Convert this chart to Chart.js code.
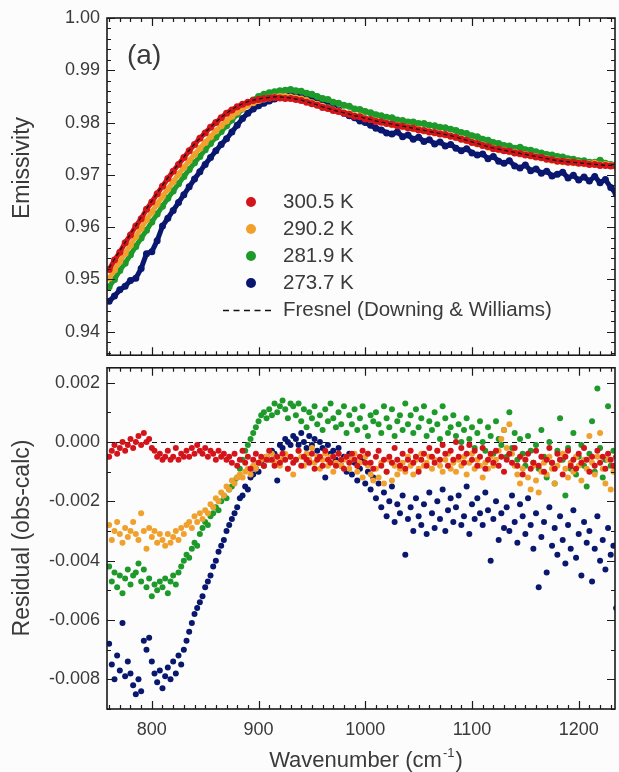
<!DOCTYPE html>
<html>
<head>
<meta charset="utf-8">
<script src="https://cdn.jsdelivr.net/npm/chart.js@4.4.1/dist/chart.umd.min.js"></script>
<style>
  body { margin: 0; background: #fcfcfc; }
  #wrap { position: relative; width: 619px; height: 772px; overflow: hidden; }
  canvas { position: absolute; left: 0; }
  #topChart { top: 0; }
  #bottomChart { top: 350px; }
</style>
</head>
<body>
<div id="wrap">
  <canvas id="topChart" width="619" height="373"></canvas>
  <canvas id="bottomChart" width="619" height="422"></canvas>
</div>
<script>
// wavenumber grid of the emissivity panel (cm-1)
const wn = [
  760, 765, 770, 775, 780, 785, 790, 795, 800, 805,
  810, 815, 820, 825, 830, 835, 840, 845, 850, 855,
  860, 865, 870, 875, 880, 885, 890, 895, 900, 905,
  910, 915, 920, 925, 930, 935, 940, 945, 950, 955,
  960, 965, 970, 975, 980, 985, 990, 995, 1000, 1005,
  1010, 1015, 1020, 1025, 1030, 1035, 1040, 1045, 1050, 1055,
  1060, 1065, 1070, 1075, 1080, 1085, 1090, 1095, 1100, 1105,
  1110, 1115, 1120, 1125, 1130, 1135, 1140, 1145, 1150, 1155,
  1160, 1165, 1170, 1175, 1180, 1185, 1190, 1195, 1200, 1205,
  1210, 1215, 1220, 1225, 1230, 1235
];

const emisRed = [
  0.9519, 0.9537, 0.9552, 0.9570, 0.9585, 0.9602, 0.9616, 0.9634, 0.9648, 0.9664,
  0.9678, 0.9693, 0.9707, 0.9720, 0.9733, 0.9746, 0.9758, 0.9770, 0.9780, 0.9791,
  0.9800, 0.9809, 0.9818, 0.9824, 0.9830, 0.9835, 0.9839, 0.9842, 0.9844, 0.9846,
  0.9847, 0.9848, 0.9847, 0.9846, 0.9846, 0.9844, 0.9842, 0.9839, 0.9836, 0.9833,
  0.9829, 0.9827, 0.9823, 0.9821, 0.9818, 0.9816, 0.9812, 0.9811, 0.9807, 0.9806,
  0.9802, 0.9801, 0.9798, 0.9797, 0.9794, 0.9793, 0.9790, 0.9789, 0.9786, 0.9785,
  0.9782, 0.9781, 0.9778, 0.9777, 0.9774, 0.9772, 0.9768, 0.9766, 0.9762, 0.9760,
  0.9756, 0.9754, 0.9750, 0.9749, 0.9746, 0.9745, 0.9742, 0.9741, 0.9738, 0.9737,
  0.9734, 0.9733, 0.9730, 0.9729, 0.9726, 0.9726, 0.9724, 0.9724, 0.9722, 0.9722,
  0.9720, 0.9720, 0.9718, 0.9718, 0.9717, 0.9717
];
const emisOrange = [
  0.9502, 0.9518, 0.9534, 0.9550, 0.9566, 0.9582, 0.9598, 0.9614, 0.9629, 0.9644,
  0.9659, 0.9673, 0.9687, 0.9701, 0.9714, 0.9727, 0.9739, 0.9751, 0.9762, 0.9773,
  0.9784, 0.9794, 0.9803, 0.9812, 0.9820, 0.9827, 0.9833, 0.9838, 0.9842, 0.9845,
  0.9847, 0.9849, 0.9850, 0.9850, 0.9849, 0.9847, 0.9845, 0.9842, 0.9838, 0.9835,
  0.9831, 0.9828, 0.9824, 0.9822, 0.9819, 0.9817, 0.9813, 0.9812, 0.9808, 0.9806,
  0.9803, 0.9800, 0.9799, 0.9796, 0.9795, 0.9792, 0.9791, 0.9788, 0.9787, 0.9784,
  0.9783, 0.9780, 0.9779, 0.9776, 0.9775, 0.9771, 0.9769, 0.9765, 0.9763, 0.9759,
  0.9757, 0.9753, 0.9751, 0.9748, 0.9747, 0.9744, 0.9743, 0.9740, 0.9739, 0.9736,
  0.9735, 0.9732, 0.9731, 0.9728, 0.9727, 0.9725, 0.9725, 0.9723, 0.9723, 0.9721,
  0.9721, 0.9722, 0.9719, 0.9720, 0.9718, 0.9716
];
const emisGreen = [
  0.9486, 0.9500, 0.9517, 0.9531, 0.9547, 0.9563, 0.9579, 0.9594, 0.9610, 0.9625,
  0.9640, 0.9655, 0.9669, 0.9683, 0.9697, 0.9710, 0.9723, 0.9735, 0.9748, 0.9760,
  0.9772, 0.9783, 0.9794, 0.9805, 0.9816, 0.9826, 0.9835, 0.9843, 0.9850, 0.9854,
  0.9857, 0.9859, 0.9861, 0.9862, 0.9863, 0.9861, 0.9860, 0.9856, 0.9854, 0.9850,
  0.9846, 0.9844, 0.9839, 0.9837, 0.9833, 0.9831, 0.9826, 0.9825, 0.9821, 0.9819,
  0.9815, 0.9813, 0.9810, 0.9809, 0.9805, 0.9804, 0.9801, 0.9801, 0.9798, 0.9798,
  0.9795, 0.9794, 0.9791, 0.9790, 0.9787, 0.9785, 0.9781, 0.9779, 0.9775, 0.9773,
  0.9768, 0.9766, 0.9762, 0.9760, 0.9756, 0.9755, 0.9751, 0.9753, 0.9748, 0.9747,
  0.9744, 0.9742, 0.9739, 0.9738, 0.9735, 0.9734, 0.9731, 0.9730, 0.9727, 0.9727,
  0.9724, 0.9724, 0.9728, 0.9722, 0.9720, 0.9719
];
const emisBlue = [
  0.9458, 0.9468, 0.9480, 0.9487, 0.9498, 0.9502, 0.9521, 0.9549, 0.9553, 0.9574,
  0.9602, 0.9617, 0.9632, 0.9647, 0.9662, 0.9677, 0.9692, 0.9706, 0.9720, 0.9733,
  0.9746, 0.9758, 0.9769, 0.9782, 0.9795, 0.9808, 0.9818, 0.9826, 0.9832, 0.9837,
  0.9841, 0.9845, 0.9848, 0.9851, 0.9852, 0.9852, 0.9851, 0.9850, 0.9848, 0.9844,
  0.9840, 0.9835, 0.9829, 0.9824, 0.9818, 0.9813, 0.9809, 0.9803, 0.9800, 0.9795,
  0.9789, 0.9786, 0.9780, 0.9778, 0.9782, 0.9773, 0.9776, 0.9768, 0.9772, 0.9764,
  0.9767, 0.9759, 0.9763, 0.9755, 0.9758, 0.9751, 0.9746, 0.9750, 0.9742, 0.9738,
  0.9740, 0.9731, 0.9735, 0.9726, 0.9722, 0.9727, 0.9717, 0.9713, 0.9719, 0.9708,
  0.9711, 0.9703, 0.9707, 0.9698, 0.9701, 0.9705, 0.9694, 0.9699, 0.9690, 0.9696,
  0.9688, 0.9697, 0.9685, 0.9691, 0.9676, 0.9664
];
// Fresnel calculation (Downing & Williams optical constants)
const fresnelCalc = [
  0.9522, 0.9539, 0.9555, 0.9571, 0.9587, 0.9603, 0.9619, 0.9635, 0.9650, 0.9665,
  0.9680, 0.9694, 0.9708, 0.9721, 0.9734, 0.9747, 0.9759, 0.9770, 0.9781, 0.9791,
  0.9801, 0.9810, 0.9818, 0.9825, 0.9831, 0.9836, 0.9840, 0.9843, 0.9845, 0.9847,
  0.9848, 0.9849, 0.9849, 0.9848, 0.9847, 0.9845, 0.9843, 0.9840, 0.9837, 0.9834,
  0.9830, 0.9827, 0.9824, 0.9821, 0.9819, 0.9816, 0.9813, 0.9811, 0.9808, 0.9806,
  0.9803, 0.9801, 0.9799, 0.9797, 0.9795, 0.9793, 0.9791, 0.9789, 0.9787, 0.9785,
  0.9783, 0.9781, 0.9779, 0.9777, 0.9775, 0.9772, 0.9769, 0.9766, 0.9763, 0.9760,
  0.9757, 0.9754, 0.9751, 0.9749, 0.9747, 0.9745, 0.9743, 0.9741, 0.9739, 0.9737,
  0.9735, 0.9733, 0.9731, 0.9729, 0.9727, 0.9726, 0.9725, 0.9724, 0.9723, 0.9722,
  0.9721, 0.9720, 0.9719, 0.9718, 0.9718, 0.9717
];

// wavenumber grid of the residual panel (cm-1)
const wnRes = [
  760, 762.5, 765, 767.5, 770, 772.5, 775, 777.5, 780, 782.5,
  785, 787.5, 790, 792.5, 795, 797.5, 800, 802.5, 805, 807.5,
  810, 812.5, 815, 817.5, 820, 822.5, 825, 827.5, 830, 832.5,
  835, 837.5, 840, 842.5, 845, 847.5, 850, 852.5, 855, 857.5,
  860, 862.5, 865, 867.5, 870, 872.5, 875, 877.5, 880, 882.5,
  885, 887.5, 890, 892.5, 895, 897.5, 900, 902.5, 905, 907.5,
  910, 912.5, 915, 917.5, 920, 922.5, 925, 927.5, 930, 932.5,
  935, 937.5, 940, 942.5, 945, 947.5, 950, 952.5, 955, 957.5,
  960, 962.5, 965, 967.5, 970, 972.5, 975, 977.5, 980, 982.5,
  985, 987.5, 990, 992.5, 995, 997.5, 1000, 1002.5, 1005, 1007.5,
  1010, 1012.5, 1015, 1017.5, 1020, 1022.5, 1025, 1027.5, 1030, 1032.5,
  1035, 1037.5, 1040, 1042.5, 1045, 1047.5, 1050, 1052.5, 1055, 1057.5,
  1060, 1062.5, 1065, 1067.5, 1070, 1072.5, 1075, 1077.5, 1080, 1082.5,
  1085, 1087.5, 1090, 1092.5, 1095, 1097.5, 1100, 1102.5, 1105, 1107.5,
  1110, 1112.5, 1115, 1117.5, 1120, 1122.5, 1125, 1127.5, 1130, 1132.5,
  1135, 1137.5, 1140, 1142.5, 1145, 1147.5, 1150, 1152.5, 1155, 1157.5,
  1160, 1162.5, 1165, 1167.5, 1170, 1172.5, 1175, 1177.5, 1180, 1182.5,
  1185, 1187.5, 1190, 1192.5, 1195, 1197.5, 1200, 1202.5, 1205, 1207.5,
  1210, 1212.5, 1215, 1217.5, 1220, 1222.5, 1225, 1227.5, 1230, 1232.5,
  1235
];

const resRed = [
  -0.0005, -0.0003, -0.0001, -0.0004, -0.0002, 0.0000, -0.0003, -0.0001, 0.0001, -0.0002,
  0.0000, 0.0002, -0.0001, 0.0003, 0.0000, 0.0001, -0.0002, -0.0003, -0.0005, -0.0004,
  -0.0006, -0.0005, -0.0003, -0.0006, -0.0005, -0.0002, -0.0006, -0.0004, -0.0005, -0.0003,
  -0.0005, -0.0002, -0.0004, -0.0001, -0.0003, -0.0004, -0.0002, -0.0005, -0.0003, -0.0004,
  -0.0006, -0.0003, -0.0005, -0.0004, -0.0006, -0.0005, -0.0007, -0.0004, -0.0008, -0.0006,
  -0.0003, -0.0007, -0.0005, -0.0009, -0.0006, -0.0004, -0.0007, -0.0005, -0.0008, -0.0006,
  -0.0003, -0.0006, -0.0008, -0.0005, -0.0007, -0.0004, -0.0006, -0.0009, -0.0005, -0.0007,
  -0.0006, -0.0003, -0.0008, -0.0005, -0.0006, -0.0007, -0.0004, -0.0009, -0.0006, -0.0005,
  -0.0008, -0.0003, -0.0006, -0.0007, -0.0005, -0.0008, -0.0004, -0.0006, -0.0009, -0.0005,
  -0.0007, -0.0004, -0.0006, -0.0008, -0.0005, -0.0003, -0.0007, -0.0004, -0.0007, -0.0009,
  -0.0005, -0.0003, -0.0008, -0.0006, -0.0010, -0.0005, -0.0007, -0.0002, -0.0006, -0.0008,
  -0.0004, -0.0009, -0.0006, -0.0003, -0.0007, -0.0005, -0.0010, -0.0006, -0.0004, -0.0008,
  -0.0002, -0.0005, -0.0007, -0.0003, -0.0006, -0.0001, -0.0004, -0.0008, -0.0003, -0.0006,
  0.0000, -0.0005, -0.0002, -0.0007, -0.0004, -0.0001, -0.0006, -0.0003, -0.0008, -0.0005,
  -0.0002, -0.0009, -0.0006, -0.0004, -0.0007, -0.0003, -0.0008, -0.0005, -0.0010, -0.0006,
  -0.0004, -0.0007, -0.0002, -0.0008, -0.0005, -0.0011, -0.0006, -0.0004, -0.0009, -0.0007,
  -0.0003, -0.0008, -0.0005, -0.0010, -0.0006, -0.0002, -0.0007, -0.0009, -0.0004, -0.0006,
  -0.0011, -0.0005, -0.0003, -0.0008, -0.0006, -0.0009, -0.0004, -0.0007, -0.0002, -0.0006,
  -0.0010, -0.0005, -0.0008, -0.0003, -0.0007, -0.0005, -0.0009, -0.0004, -0.0006, -0.0008,
  -0.0005
];
const resOrange = [
  -0.0028, -0.0033, -0.0030, -0.0027, -0.0031, -0.0034, -0.0029, -0.0032, -0.0030, -0.0027,
  -0.0031, -0.0033, -0.0024, -0.0030, -0.0036, -0.0029, -0.0032, -0.0030, -0.0034, -0.0031,
  -0.0033, -0.0035, -0.0031, -0.0034, -0.0032, -0.0030, -0.0033, -0.0029, -0.0031, -0.0028,
  -0.0027, -0.0029, -0.0025, -0.0027, -0.0024, -0.0026, -0.0023, -0.0024, -0.0021, -0.0022,
  -0.0019, -0.0020, -0.0017, -0.0018, -0.0015, -0.0016, -0.0013, -0.0014, -0.0012, -0.0011,
  -0.0012, -0.0010, -0.0009, -0.0011, -0.0008, -0.0009, -0.0007, -0.0006, -0.0008, -0.0005,
  -0.0006, -0.0004, -0.0007, -0.0005, -0.0008, -0.0006, -0.0004, -0.0009, -0.0005, -0.0011,
  -0.0006, -0.0003, -0.0005, -0.0008, -0.0004, -0.0006, -0.0002, -0.0007, -0.0005, -0.0009,
  -0.0006, -0.0004, -0.0008, -0.0005, -0.0010, -0.0007, -0.0004, -0.0008, -0.0006, -0.0005,
  -0.0009, -0.0006, -0.0004, -0.0010, -0.0007, -0.0012, -0.0005, -0.0008, -0.0011, -0.0013,
  -0.0009, -0.0012, -0.0007, -0.0014, -0.0010, -0.0006, -0.0013, -0.0008, -0.0011, -0.0009,
  -0.0007, -0.0010, -0.0005, -0.0008, -0.0011, -0.0006, -0.0009, -0.0004, -0.0008, -0.0007,
  -0.0005, -0.0009, -0.0006, -0.0003, -0.0008, -0.0010, -0.0006, -0.0004, -0.0009, -0.0007,
  -0.0010, -0.0006, -0.0008, -0.0005, -0.0011, -0.0007, -0.0004, -0.0009, -0.0006, -0.0008,
  -0.0012, -0.0007, -0.0009, -0.0005, -0.0008, -0.0006, -0.0003, 0.0001, 0.0004, -0.0002,
  0.0006, -0.0004, -0.0008, -0.0011, -0.0014, -0.0009, -0.0006, -0.0012, -0.0016, -0.0008,
  -0.0013, -0.0017, -0.0010, -0.0007, -0.0011, -0.0005, -0.0009, -0.0014, -0.0008, -0.0006,
  -0.0004, -0.0009, -0.0012, -0.0007, -0.0010, -0.0005, -0.0008, -0.0013, -0.0006, -0.0009,
  0.0002, -0.0007, -0.0011, -0.0005, 0.0003, -0.0009, -0.0014, -0.0006, -0.0016, -0.0010,
  -0.0008
];
const resGreen = [
  -0.0042, -0.0047, -0.0044, -0.0049, -0.0045, -0.0051, -0.0046, -0.0043, -0.0048, -0.0045,
  -0.0044, -0.0041, -0.0047, -0.0043, -0.0049, -0.0046, -0.0052, -0.0048, -0.0050, -0.0047,
  -0.0049, -0.0046, -0.0051, -0.0047, -0.0045, -0.0048, -0.0044, -0.0042, -0.0040, -0.0038,
  -0.0039, -0.0036, -0.0034, -0.0035, -0.0031, -0.0029, -0.0027, -0.0028, -0.0025, -0.0024,
  -0.0022, -0.0023, -0.0020, -0.0018, -0.0019, -0.0016, -0.0015, -0.0013, -0.0012, -0.0009,
  -0.0006, -0.0003, -0.0001, 0.0001, 0.0003, 0.0005, 0.0007, 0.0009, 0.0010, 0.0008,
  0.0011, 0.0009, 0.0013, 0.0010, 0.0012, 0.0014, 0.0011, 0.0008, 0.0013, 0.0012,
  0.0009, 0.0013, 0.0007, 0.0011, 0.0005, 0.0010, 0.0008, 0.0012, 0.0006, 0.0009,
  0.0004, 0.0011, 0.0007, 0.0013, 0.0008, 0.0005, 0.0010, 0.0006, 0.0012, 0.0003,
  0.0009, 0.0006, 0.0011, 0.0004, 0.0008, 0.0012, 0.0005, 0.0002, 0.0009, 0.0007,
  0.0010, 0.0006, 0.0003, 0.0012, 0.0008, 0.0005, 0.0011, 0.0002, 0.0007, 0.0009,
  0.0004, 0.0013, 0.0006, 0.0009, 0.0003, 0.0011, 0.0005, 0.0008, 0.0012, 0.0002,
  0.0007, 0.0004, 0.0010, 0.0006, 0.0001, 0.0012, 0.0008, 0.0003, 0.0005, 0.0009,
  0.0002, 0.0006, 0.0000, 0.0004, 0.0008, 0.0001, 0.0005, -0.0002, 0.0003, 0.0007,
  0.0000, -0.0003, 0.0005, 0.0002, -0.0004, 0.0007, 0.0001, -0.0001, 0.0004, -0.0005,
  0.0010, -0.0002, 0.0003, -0.0006, 0.0001, -0.0004, -0.0008, 0.0002, -0.0003, -0.0007,
  -0.0001, -0.0009, 0.0004, -0.0005, -0.0012, 0.0000, -0.0007, -0.0014, -0.0003, 0.0008,
  -0.0006, -0.0018, -0.0002, -0.0009, 0.0003, -0.0011, -0.0005, -0.0001, -0.0008, -0.0015,
  -0.0004, 0.0007, -0.0010, 0.0018, -0.0002, -0.0012, -0.0006, 0.0012, -0.0008, -0.0003,
  -0.0009
];
const resBlue = [
  -0.0068, -0.0075, -0.0080, -0.0072, -0.0077, -0.0061, -0.0079, -0.0074, -0.0078, -0.0082,
  -0.0085, -0.0080, -0.0084, -0.0067, -0.0070, -0.0066, -0.0074, -0.0078, -0.0081, -0.0077,
  -0.0083, -0.0079, -0.0076, -0.0080, -0.0074, -0.0078, -0.0072, -0.0075, -0.0070, -0.0067,
  -0.0064, -0.0061, -0.0058, -0.0056, -0.0054, -0.0052, -0.0049, -0.0047, -0.0045, -0.0042,
  -0.0040, -0.0037, -0.0035, -0.0033, -0.0030, -0.0028, -0.0026, -0.0024, -0.0022, -0.0019,
  -0.0018, -0.0015, -0.0016, -0.0012, -0.0011, -0.0009, -0.0010, -0.0007, -0.0008, -0.0005,
  -0.0006, -0.0003, -0.0004, -0.0013, -0.0001, -0.0002, 0.0001, 0.0000, -0.0001, 0.0002,
  0.0001, -0.0001, 0.0003, 0.0000, -0.0002, 0.0002, -0.0001, 0.0001, -0.0003, 0.0000,
  -0.0002, -0.0012, -0.0001, -0.0004, -0.0003, -0.0006, -0.0002, -0.0008, -0.0005, -0.0010,
  -0.0004, -0.0011, -0.0007, -0.0013, -0.0009, -0.0006, -0.0014, -0.0010, -0.0016, -0.0012,
  -0.0019, -0.0014, -0.0022, -0.0017, -0.0025, -0.0020, -0.0015, -0.0027, -0.0021, -0.0024,
  -0.0018, -0.0038, -0.0026, -0.0022, -0.0030, -0.0019, -0.0025, -0.0028, -0.0021, -0.0031,
  -0.0017, -0.0024, -0.0029, -0.0020, -0.0026, -0.0016, -0.0030, -0.0023, -0.0019, -0.0027,
  -0.0022, -0.0018, -0.0028, -0.0025, -0.0015, -0.0031, -0.0021, -0.0026, -0.0019, -0.0024,
  -0.0028, -0.0017, -0.0023, -0.0040, -0.0026, -0.0020, -0.0033, -0.0024, -0.0029, -0.0022,
  -0.0030, -0.0018, -0.0027, -0.0034, -0.0021, -0.0025, -0.0031, -0.0019, -0.0028, -0.0036,
  -0.0024, -0.0049, -0.0032, -0.0027, -0.0044, -0.0022, -0.0035, -0.0029, -0.0038, -0.0025,
  -0.0033, -0.0041, -0.0028, -0.0036, -0.0023, -0.0039, -0.0031, -0.0045, -0.0027, -0.0034,
  -0.0030, -0.0047, -0.0036, -0.0025, -0.0040, -0.0033, -0.0043, -0.0029, -0.0038, -0.0035,
  -0.0056
];

const seriesLabels = ['300.5 K', '290.2 K', '281.9 K', '273.7 K'];
const fresnelLabel = 'Fresnel (Downing & Williams)';
const panelLabel = '(a)';
const wnTicks = [800, 900, 1000, 1100, 1200];
const emisTicks = [0.94, 0.95, 0.96, 0.97, 0.98, 0.99, 1.00];
const resTicks = [-0.008, -0.006, -0.004, -0.002, 0.000, 0.002];

const colors = ['#d4141b', '#f0a12d', '#1e9a2b', '#0a176e'];
const FONT = "'Liberation Sans', Arial, sans-serif";
const TEXT = '#3a3a3a';

function toXY(xs, ys) {
  return ys.map((y, i) => ({ x: xs[i], y: y }));
}

function scatterSet(label, xs, ys, color, r, order, band) {
  return {
    label: label,
    data: toXY(xs, ys),
    backgroundColor: color,
    borderColor: color,
    showLine: !!band,
    borderWidth: band || 0,
    pointRadius: r,
    pointBorderWidth: 0,
    order: order
  };
}

// frame with inward ticks on all four sides
function drawFrame(chart, yStep, yMajorEvery) {
  const ctx = chart.ctx, a = chart.chartArea;
  const xs = chart.scales.x, ys = chart.scales.y;
  ctx.save();
  ctx.strokeStyle = '#1a1a1a';
  ctx.lineWidth = 1.2;
  ctx.beginPath();
  for (let v = 760; v < xs.max; v += 10) {
    const px = Math.round(xs.getPixelForValue(v)) + 0.5;
    const len = v % 100 === 0 ? 8 : 4;
    ctx.moveTo(px, a.bottom); ctx.lineTo(px, a.bottom - len);
    ctx.moveTo(px, a.top); ctx.lineTo(px, a.top + len);
  }
  const k0 = Math.ceil(ys.min / yStep - 1e-6), k1 = Math.floor(ys.max / yStep + 1e-6);
  for (let k = k0; k <= k1; k++) {
    const py = Math.round(ys.getPixelForValue(k * yStep)) + 0.5;
    const len = k % yMajorEvery === 0 ? 8 : 4;
    ctx.moveTo(a.left, py); ctx.lineTo(a.left + len, py);
    ctx.moveTo(a.right, py); ctx.lineTo(a.right - len, py);
  }
  ctx.stroke();
  ctx.lineWidth = 1.6;
  ctx.strokeRect(a.left, a.top, a.right - a.left, a.bottom - a.top);
  ctx.restore();
}

function vTitle(ctx, text, x, y, size) {
  ctx.save();
  ctx.translate(x, y);
  ctx.rotate(-Math.PI / 2);
  ctx.font = size + 'px ' + FONT;
  ctx.fillStyle = TEXT;
  ctx.textAlign = 'center';
  ctx.textBaseline = 'middle';
  ctx.fillText(text, 0, 0);
  ctx.restore();
}

const topDecor = {
  id: 'topDecor',
  afterDatasetsDraw(chart) {
    const ctx = chart.ctx;
    drawFrame(chart, 0.002, 5);
    vTitle(ctx, 'Emissivity', 23, 168, 23);
    ctx.save();
    ctx.fillStyle = TEXT;
    ctx.font = '28px ' + FONT;
    ctx.textBaseline = 'middle';
    ctx.fillText(panelLabel, 127, 56);
    // legend
    const rows = [202, 229, 256, 283];
    ctx.font = '20.5px ' + FONT;
    seriesLabels.forEach((lab, i) => {
      ctx.fillStyle = colors[i];
      ctx.beginPath();
      ctx.arc(251, rows[i], 5, 0, Math.PI * 2);
      ctx.fill();
      ctx.fillStyle = TEXT;
      ctx.fillText(lab, 283, rows[i]);
    });
    ctx.strokeStyle = '#111';
    ctx.lineWidth = 1.5;
    ctx.setLineDash([6, 4.5]);
    ctx.beginPath();
    ctx.moveTo(223, 310.5); ctx.lineTo(274, 310.5);
    ctx.stroke();
    ctx.setLineDash([]);
    ctx.fillText(fresnelLabel, 283, 310);
    ctx.restore();
  }
};

const bottomDecor = {
  id: 'bottomDecor',
  beforeDatasetsDraw(chart) {
    const ctx = chart.ctx, a = chart.chartArea;
    const py = Math.round(chart.scales.y.getPixelForValue(0)) + 0.5;
    ctx.save();
    ctx.strokeStyle = '#111';
    ctx.lineWidth = 1.2;
    ctx.setLineDash([5, 4]);
    ctx.beginPath();
    ctx.moveTo(a.left, py); ctx.lineTo(a.right, py);
    ctx.stroke();
    ctx.restore();
  },
  afterDatasetsDraw(chart) {
    const ctx = chart.ctx;
    drawFrame(chart, 0.001, 2);
    vTitle(ctx, 'Residual (obs-calc)', 23, 188, 23);
    // x axis title with superscript
    ctx.save();
    ctx.fillStyle = TEXT;
    ctx.textBaseline = 'alphabetic';
    const main = 'Wavenumber (cm', sup = '-1', tail = ')';
    ctx.font = '22px ' + FONT;
    const w1 = ctx.measureText(main).width, w3 = ctx.measureText(tail).width;
    ctx.font = '13px ' + FONT;
    const w2 = ctx.measureText(sup).width;
    let x = 366 - (w1 + w2 + w3 + 2) / 2;
    const base = 417;
    ctx.font = '22px ' + FONT;
    ctx.fillText(main, x, base);
    x += w1 + 1;
    ctx.font = '13px ' + FONT;
    ctx.fillText(sup, x, base - 10);
    x += w2 + 1;
    ctx.font = '22px ' + FONT;
    ctx.fillText(tail, x, base);
    ctx.restore();
  }
};

const commonOpts = {
  responsive: false,
  animation: false,
  events: [],
  plugins: { legend: { display: false }, tooltip: { enabled: false } }
};

function yAxis(min, max, ticks, digits) {
  return {
    type: 'linear',
    min: min,
    max: max,
    grid: { display: false, drawTicks: false },
    border: { display: false },
    afterBuildTicks: s => { s.ticks = ticks.map(v => ({ value: v })); },
    afterFit: s => { s.width = 107; },
    ticks: {
      padding: 7,
      color: TEXT,
      font: { family: FONT, size: 18 },
      callback: v => v.toFixed(digits)
    }
  };
}

new Chart(document.getElementById('topChart'), {
  type: 'scatter',
  data: {
    datasets: [
      {
        label: fresnelLabel,
        data: toXY(wn, fresnelCalc),
        showLine: true,
        borderColor: '#111',
        borderWidth: 1.3,
        borderDash: [4, 3],
        pointRadius: 0,
        order: 0
      },
      scatterSet(seriesLabels[0], wn, emisRed, colors[0], 3.5, 1, 5),
      scatterSet(seriesLabels[1], wn, emisOrange, colors[1], 3.5, 2, 5),
      scatterSet(seriesLabels[2], wn, emisGreen, colors[2], 3.5, 3, 5),
      scatterSet(seriesLabels[3], wn, emisBlue, colors[3], 3.5, 4, 5)
    ]
  },
  options: Object.assign({}, commonOpts, {
    layout: { padding: { left: 0, right: 3, top: 18, bottom: 12 } },
    scales: {
      x: { type: 'linear', min: 758, max: 1234, display: false },
      y: yAxis(0.9355, 1.0, emisTicks, 2)
    }
  }),
  plugins: [topDecor]
});

new Chart(document.getElementById('bottomChart'), {
  type: 'scatter',
  data: {
    datasets: [
      scatterSet(seriesLabels[0], wnRes, resRed, colors[0], 3, 1),
      scatterSet(seriesLabels[1], wnRes, resOrange, colors[1], 3, 2),
      scatterSet(seriesLabels[2], wnRes, resGreen, colors[2], 3, 3),
      scatterSet(seriesLabels[3], wnRes, resBlue, colors[3], 3, 4)
    ]
  },
  options: Object.assign({}, commonOpts, {
    layout: { padding: { left: 0, right: 3, top: 14, bottom: 0 } },
    scales: {
      x: {
        type: 'linear',
        min: 758,
        max: 1234,
        grid: { display: false, drawTicks: false },
        border: { display: false },
        afterBuildTicks: s => { s.ticks = wnTicks.map(v => ({ value: v })); },
        afterFit: s => { s.height = 63; },
        ticks: {
          padding: 10,
          color: TEXT,
          maxRotation: 0,
          font: { family: FONT, size: 18 },
          callback: v => String(v)
        }
      },
      y: yAxis(-0.009, 0.0025, resTicks, 3)
    }
  }),
  plugins: [bottomDecor]
});
</script>
</body>
</html>
